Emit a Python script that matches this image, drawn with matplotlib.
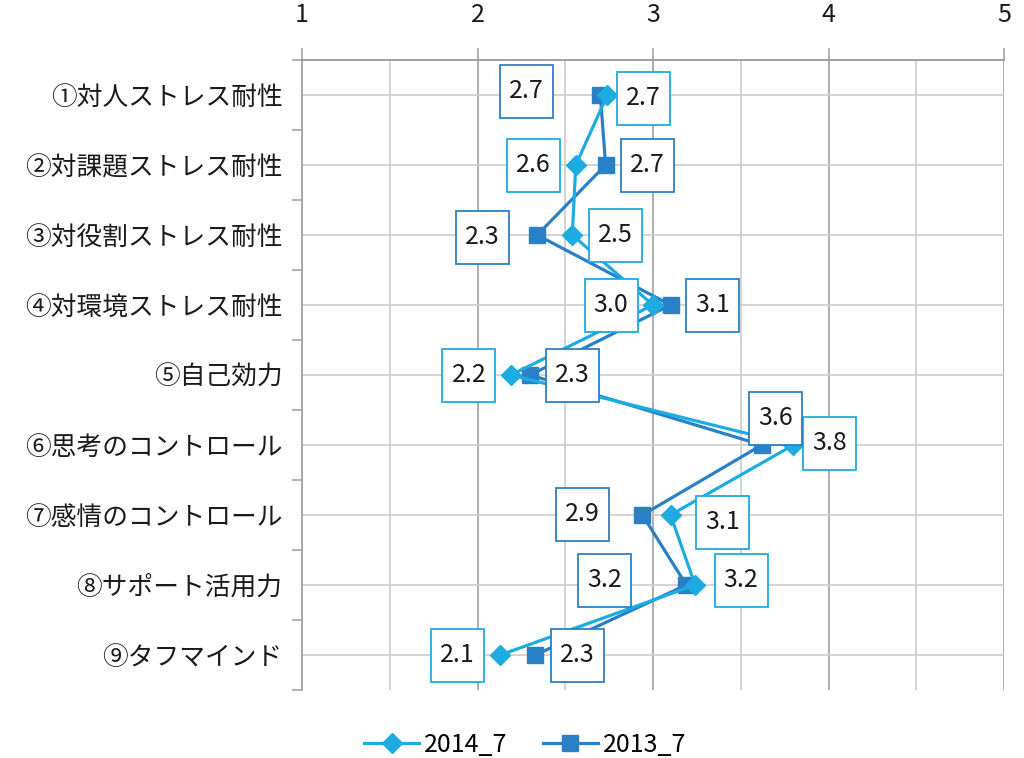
import matplotlib.pyplot as plt
import numpy as np
from matplotlib.path import Path
from matplotlib.ticker import MultipleLocator, FixedLocator

plt.rcParams['font.family'] = ['Noto Sans CJK JP', 'DejaVu Sans']

# ── Data ───────────────────────────────────────────────────────────────────────
categories = ["①対人ストレス耐性", "②対課題ストレス耐性", "③対役割ストレス耐性",
              "④対環境ストレス耐性", "⑤自己効力", "⑥思考のコントロール",
              "⑦感情のコントロール", "⑧サポート活用力", "⑨タフマインド"]
scores_2014 = [2.74, 2.56, 2.54, 3.00, 2.19, 3.80, 3.10, 3.24, 2.13]
scores_2013 = [2.70, 2.73, 2.34, 3.10, 2.30, 3.62, 2.94, 3.19, 2.33]
x_ticks = [1, 2, 3, 4, 5]

# label offsets (pixels) from each marker
offs_2014 = [(36, -3), (-42, 0), (43, 0), (-42, 0), (-42, 0),
             (36, 2), (52, -7), (46, 5), (-43, 0)]
offs_2013 = [(-74, 4), (42, 0), (-55, -2), (42, 0), (42, 0),
             (14, 27), (-60, 1), (-82, 5), (42, 0)]

C_LIGHT = "#1eabe2"
C_DARK = "#2a80c6"


def square_box(x0, y0, width, height, mutation_size):
    # fixed-size square around the label, independent of text width
    cx, cy = x0 + width / 2, y0 + height / 2
    h = mutation_size * 1.06
    return Path([(cx - h, cy - h), (cx + h, cy - h), (cx + h, cy + h),
                 (cx - h, cy + h), (cx - h, cy - h)], closed=True)


fig = plt.figure(figsize=(10.24, 7.58), dpi=100)
ax = fig.add_axes([302 / 1024, 1 - 690 / 758, 702 / 1024, 630 / 758])

y = np.arange(len(categories))

ax.plot(scores_2014, y, color=C_LIGHT, lw=2.3, marker="D", ms=10.5,
        label="2014_7", zorder=4)
ax.plot(scores_2013, y, color=C_DARK, lw=2.3, marker="s", ms=11.5,
        label="2013_7", zorder=3)

for vals, offs, col in [(scores_2014, offs_2014, C_LIGHT),
                        (scores_2013, offs_2013, C_DARK)]:
    for v, yy, (dx, dy) in zip(vals, y, offs):
        ax.annotate(f"{v:.1f}", (v, yy), xytext=(dx, dy),
                    textcoords="offset pixels", ha="center", va="center",
                    fontsize=18, color="#1a1a1a", zorder=6,
                    bbox=dict(boxstyle=square_box, fc="white",
                              ec=col, lw=1.3))

ax.set_xlim(1, 5)
ax.set_ylim(len(categories) - 0.5, -0.5)

ax.xaxis.set_major_locator(FixedLocator(x_ticks))
ax.xaxis.set_minor_locator(MultipleLocator(0.5))
ax.xaxis.tick_top()
ax.tick_params(axis="x", which="major", length=9, width=1.2, color="#a6a6a6",
               labelsize=18, pad=14, labelcolor="#1a1a1a")
ax.tick_params(axis="x", which="minor", length=0)

ax.set_yticks(y)
ax.set_yticklabels(categories)
ax.yaxis.set_minor_locator(FixedLocator(np.arange(-0.5, len(categories), 1)))
ax.tick_params(axis="y", which="major", length=0, labelsize=18.5, pad=14,
               labelcolor="#1a1a1a")
ax.tick_params(axis="y", which="minor", length=7, width=1.2, color="#a6a6a6")

ax.grid(axis="x", which="major", color="#a0a0a0", lw=1.2)
ax.grid(axis="x", which="minor", color="#cccccc", lw=1.2)
ax.grid(axis="y", which="major", color="#cccccc", lw=1.2)
ax.set_axisbelow(True)

for side in ["right", "bottom"]:
    ax.spines[side].set_visible(False)
ax.spines["top"].set_color("#999999")
ax.spines["top"].set_linewidth(1.3)
ax.spines["left"].set_color("#a6a6a6")
ax.spines["left"].set_linewidth(1.3)

fig.legend(loc="center", bbox_to_anchor=(0.513, 1 - 745 / 758), ncol=2,
           frameon=False, fontsize=18, handlelength=2.2, columnspacing=1.4,
           handletextpad=0.2)

fig.savefig("out.png", dpi=100)
